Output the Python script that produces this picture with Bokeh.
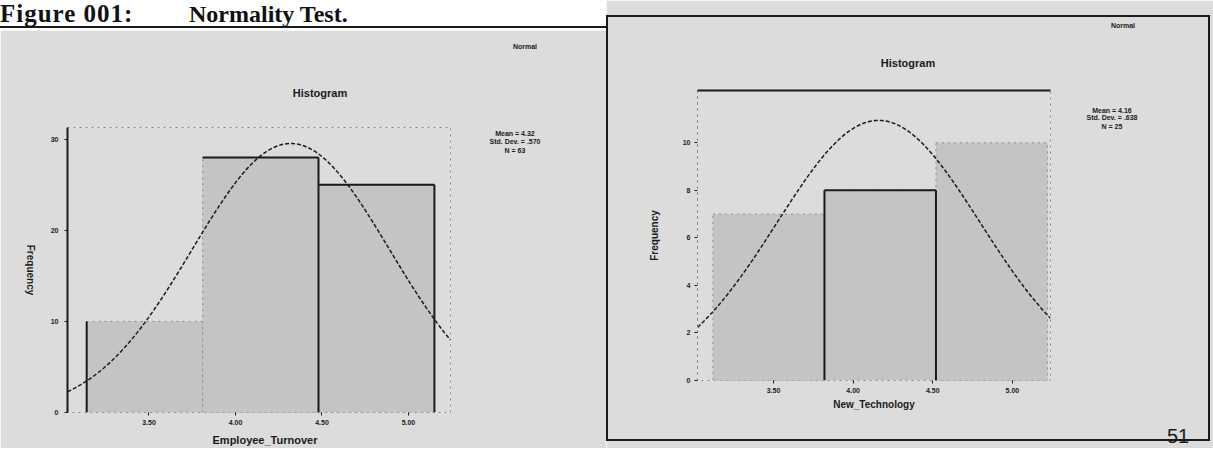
import re
import numpy as np
from bokeh.plotting import figure
from bokeh.models import Range1d, LinearAxis, Div, FixedTicker
from bokeh.layouts import row, column
from bokeh.embed import file_html
from bokeh.resources import INLINE

# ---------------- data ----------------
et_bin_edges = [3.14, 3.81, 4.48, 5.15]
et_counts = [10, 28, 25]
et_mean, et_sd, et_n = 4.32, 0.570, 63
et_xticks = [3.5, 4.0, 4.5, 5.0]
et_xtick_labels = ["3.50", "4.00", "4.50", "5.00"]
et_yticks = [0, 10, 20, 30]

nt_bin_edges = [3.12, 3.82, 4.52, 5.22]
nt_counts = [7, 8, 10]
nt_mean, nt_sd, nt_n = 4.16, 0.638, 25
nt_xticks = [3.5, 4.0, 4.5, 5.0]
nt_xtick_labels = ["3.50", "4.00", "4.50", "5.00"]
nt_yticks = [0, 2, 4, 6, 8, 10]

PAPER = "#dcdcdc"
BAR = "#c4c4c4"
INK = "#1a1a1a"
FONT = "Liberation Sans"


def normal_curve(edges, mean, sd, n, lo, hi):
    w = (edges[-1] - edges[0]) / (len(edges) - 1)
    xs = np.linspace(lo, hi, 200)
    ys = n * w / (sd * np.sqrt(2 * np.pi)) * np.exp(-0.5 * ((xs - mean) / sd) ** 2)
    return xs, ys


def make_hist(width, height, FL, FR, FT, FB, xr, yr, edges, counts, xticks, xlabels, yticks):
    p = figure(width=width, height=height, x_range=Range1d(*xr), y_range=Range1d(*yr),
               output_backend="svg", toolbar_location=None, margin=0,
               min_border_left=FL, min_border_right=width - FR,
               min_border_top=FT, min_border_bottom=height - FB)
    p.background_fill_color = PAPER
    p.border_fill_color = PAPER
    p.grid.visible = False
    p.outline_line_color = "#8a8a8a"
    p.outline_line_dash = "dotted"
    p.outline_line_width = 1

    p.xaxis.ticker = FixedTicker(ticks=xticks)
    p.xaxis.major_label_overrides = {t: l for t, l in zip(xticks, xlabels)}
    p.xaxis.axis_line_color = None
    p.yaxis.ticker = FixedTicker(ticks=yticks)
    for ax in (p.xaxis, p.yaxis):
        ax.major_tick_in = 0
        ax.major_tick_out = 3
        ax.minor_tick_line_color = None
        ax.major_tick_line_color = INK
        ax.major_label_text_font = FONT
        ax.major_label_text_font_size = "7px"
        ax.major_label_text_font_style = "bold"
        ax.major_label_text_color = INK
        ax.major_label_standoff = 4
        ax.axis_label_text_font = FONT
        ax.axis_label_text_font_size = "10px"
        ax.axis_label_text_font_style = "bold"
        ax.axis_label_text_color = INK

    p.quad(left=edges[:-1], right=edges[1:], bottom=0, top=counts,
           fill_color=BAR, fill_alpha=1.0, line_color="#8c8c8c", line_dash="dotted", line_width=1)
    return p


# ---------------- left chart: Employee_Turnover ----------------
W1, H_ROW = 606, 448
TITLE_H = 30
H1 = H_ROW - TITLE_H
p1 = make_hist(W1, H1, 67, 450, 97, 382, (3.029, 5.243), (0, 31.3),
               et_bin_edges, et_counts, et_xticks, et_xtick_labels, et_yticks)
p1.yaxis.axis_line_color = INK
p1.yaxis.axis_line_width = 2
p1.yaxis.major_label_standoff = 6

e, c = et_bin_edges, et_counts
p1.segment(x0=[e[0], e[1], e[2], e[2], e[3]],
           y0=[0, c[1], 0, c[2], 0],
           x1=[e[0], e[2], e[2], e[3], e[3]],
           y1=[c[0], c[1], c[1], c[2], c[2]],
           line_color=INK, line_width=2)
xs, ys = normal_curve(et_bin_edges, et_mean, et_sd, et_n, 3.029, 5.243)
p1.line(xs, ys, line_color=INK, line_width=1.5, line_dash="4 2")

SERIF = "font-family:'Liberation Serif',serif;font-weight:bold;line-height:22px;white-space:pre;color:#111;position:absolute;"
title_div = Div(width=W1, height=TITLE_H, margin=0, text=(
    f'<div style="position:relative;width:{W1}px;height:{TITLE_H - 2}px;border-bottom:2px solid #1a1a1a;">'
    f'<span style="{SERIF}left:0;top:3px;font-size:25px;letter-spacing:1px;">Figure 001:</span>'
    f'<span style="{SERIF}left:189px;top:3px;font-size:24px;">Normality Test.</span>'
    '</div>'))

# ---------------- right chart: New_Technology ----------------
W2 = 1213 - W1
p2 = make_hist(W2, H_ROW, 91, 444, 90, 380, (3.023, 5.239), (0, 12.2),
               nt_bin_edges, nt_counts, nt_xticks, nt_xtick_labels, nt_yticks)
p2.yaxis.axis_line_color = "#7a7a7a"
p2.yaxis.axis_line_dash = "dotted"
p2.yaxis.axis_label = "Frequency"
p2.yaxis.axis_label_standoff = 20
p2.xaxis.axis_label = "New_Technology"
p2.xaxis.axis_label_standoff = 3

top_axis = LinearAxis(ticker=FixedTicker(ticks=[]), axis_line_color=INK, axis_line_width=2,
                      major_tick_line_color=None, minor_tick_line_color=None,
                      major_label_text_font_size="0px")
p2.add_layout(top_axis, "above")

e, c = nt_bin_edges, nt_counts
p2.segment(x0=[e[1], e[1], e[2]], y0=[0, c[1], 0],
           x1=[e[1], e[2], e[2]], y1=[c[1], c[1], c[1]],
           line_color=INK, line_width=2)
xs, ys = normal_curve(nt_bin_edges, nt_mean, nt_sd, nt_n, 3.023, 5.239)
p2.line(xs, ys, line_color=INK, line_width=1.5, line_dash="4 2")

# ---------------- overlay texts (page positions) ----------------
OY = H_ROW + 11  # measured top of the overlay container on the page


def span(x, y, text, size=7, weight="bold", rotate=0, family="'Liberation Sans',Arial,sans-serif"):
    rot = f" rotate({rotate}deg)" if rotate else ""
    return (f'<span style="position:absolute;left:{x}px;top:{y - OY}px;'
            f'transform:translate(-50%,-50%){rot};white-space:nowrap;z-index:50;'
            f'font-family:{family};font-size:{size}px;font-weight:{weight};color:#1a1a1a;'
            f'line-height:1;">{text}</span>')


pieces = [
    # left chart texts
    span(320, 93, "Histogram", 11),
    span(525, 46, "Normal", 7),
    span(515, 133, f"Mean = {et_mean:.2f}", 7),
    span(515, 141, f"Std. Dev. = {et_sd:.3f}".replace("0.", "."), 7),
    span(515, 150, f"N = {et_n}", 7),
    span(30, 270, "Frequency", 10, rotate=90),
    span(265, 440, "Employee_Turnover", 11),
    # right chart texts
    span(908, 63, "Histogram", 11),
    span(1123, 25, "Normal", 7),
    span(1112, 110, f"Mean = {nt_mean:.2f}", 7),
    span(1112, 117, f"Std. Dev. = {nt_sd:.3f}".replace("0.", "."), 7),
    span(1112, 126, f"N = {nt_n}", 7),
    span(1178, 436, "51", 20, weight="normal"),
    # outer frame round the right chart
    f'<div style="position:absolute;left:606px;top:{15 - OY}px;width:604px;height:426px;'
    'box-sizing:border-box;border:2px solid #1a1a1a;z-index:40;"></div>',
]
overlay = Div(width=1213, height=1, margin=0,
              text='<div style="position:relative;width:1213px;height:1px;">' + "".join(pieces) + '</div>')

layout = column(row(column(title_div, p1, spacing=0), p2, spacing=0), overlay, spacing=0)

html = file_html(layout, INLINE, "Normality Test")
html = re.sub(r"<body([^>]*)>", r'<body\1 style="background:#dcdcdc;">', html, count=1)
open("out.html", "w").write(html)
